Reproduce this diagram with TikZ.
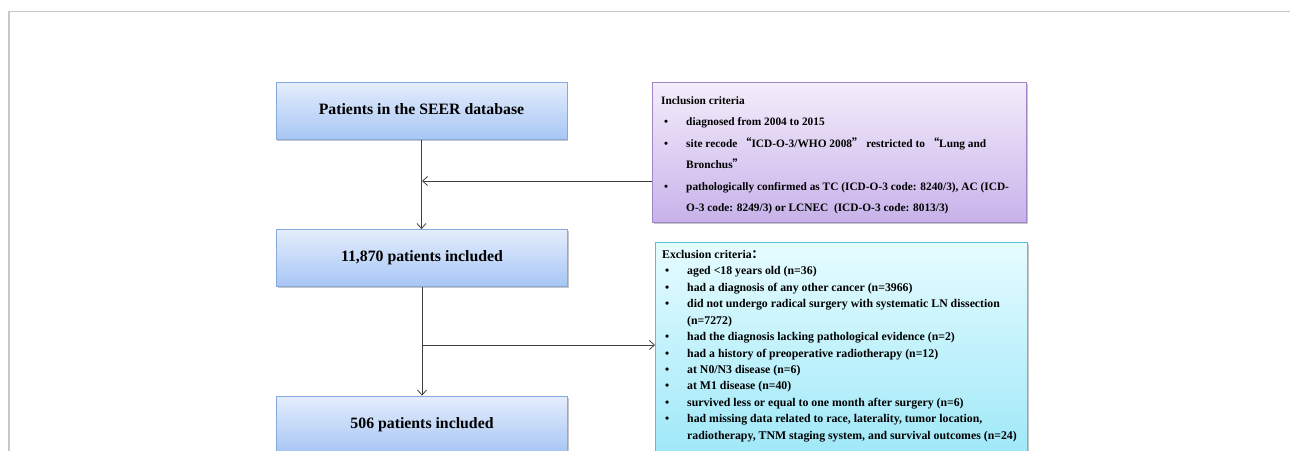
\documentclass[tikz,border=0pt]{standalone}
\usepackage{fontspec}
\setmainfont{Liberation Serif}
\newfontfamily\cjk{Noto Sans CJK SC}
\usetikzlibrary{arrows.meta,shadows}
\definecolor{maintop}{HTML}{E4EDFC}
\definecolor{mainbot}{HTML}{A7C6F5}
\definecolor{mainborder}{HTML}{86AADD}
\definecolor{inctop}{HTML}{F4EDFB}
\definecolor{incbot}{HTML}{C8B2EA}
\definecolor{incborder}{HTML}{A084C8}
\definecolor{exctop}{HTML}{E6FCFF}
\definecolor{excbot}{HTML}{9EE8F8}
\definecolor{excborder}{HTML}{52C2D8}
\definecolor{linec}{HTML}{404040}
\definecolor{framec}{HTML}{C8C8C8}
\newcommand{\bul}{\hspace*{3pt}\makebox[22pt][l]{\textbullet}}
\newcommand{\cont}{\hspace*{25pt}}
\begin{document}
\begin{tikzpicture}[x=1pt,y=-1pt,
  boxshadow/.style={drop shadow={shadow xshift=1.2pt, shadow yshift=-1.5pt, fill=black, opacity=0.22}},
  mainbox/.style={draw=mainborder, line width=0.8pt, top color=maintop, bottom color=mainbot,
    minimum width=291pt, minimum height=57pt, inner sep=0pt, boxshadow,
    text height=10.5pt, text depth=3pt,
    font=\fontsize{15.8}{18}\selectfont\bfseries},
  incbox/.style={draw=incborder, line width=0.8pt, top color=inctop, bottom color=incbot,
    minimum width=374pt, minimum height=140pt, inner sep=0pt, anchor=north west, boxshadow},
  excbox/.style={draw=excborder, line width=0.8pt, top color=exctop, bottom color=excbot,
    minimum width=372pt, minimum height=215pt, inner sep=0pt, anchor=north west, boxshadow},
  inctext/.style={anchor=north west, inner sep=0pt, align=left, font=\fontsize{11.35}{21.5}\selectfont\bfseries},
  exctext/.style={anchor=north west, inner sep=0pt, align=left, font=\fontsize{11.8}{16.45}\selectfont\bfseries},
  conn/.style={draw=linec, line width=0.9pt, -{Straight Barb[length=5pt,width=9pt,line width=0.8pt]}}
]
\useasboundingbox (0,0) rectangle (1290,450);
\clip (0,0) rectangle (1290,450);
\fill[white] (0,0) rectangle (1290,450);
% frame
\draw[framec, line width=1.3pt] (9,452) -- (9,11.5) -- (1292,11.5);

% main boxes
\node[mainbox] (b1) at (421.5,111) {Patients in the SEER database};
\node[mainbox] (b2) at (422,258) {11,870 patients included};
\node[mainbox] (b3) at (422,424.5) {506 patients included};

% criteria boxes
\node[incbox] (inc) at (652,82) {};
\node[excbox] (exc) at (655,242) {};

\node[inctext] (inct) at (661,96) {Inclusion criteria\\
\bul diagnosed from 2004 to 2015\\
\bul site recode {\cjk “}ICD-O-3/WHO 2008{\cjk ”} restricted to {\cjk “}Lung and\\
\cont Bronchus{\cjk ”}\\
\bul pathologically confirmed as TC (ICD-O-3 code: 8240/3), AC (ICD-\\
\cont O-3 code: 8249/3) or LCNEC\ \ (ICD-O-3 code: 8013/3)};

\node[exctext] (exct) at (662,250) {Exclusion criteria{\cjk ：}\\
\bul aged <18 years old (n=36)\\
\bul had a diagnosis of any other cancer (n=3966)\\
\bul did not undergo radical surgery with systematic LN dissection\\
\cont (n=7272)\\
\bul had the diagnosis lacking pathological evidence (n=2)\\
\bul had a history of preoperative radiotherapy (n=12)\\
\bul at N0/N3 disease (n=6)\\
\bul at M1 disease (n=40)\\
\bul survived less or equal to one month after surgery (n=6)\\
\bul had missing data related to race, laterality, tumor location,\\
\cont radiotherapy, TNM staging system, and survival outcomes (n=24)};

% connectors
\coordinate (j1) at (422,181);
\coordinate (j2) at (422,345);
\draw[conn] (b1.south) -- (b1.south |- b2.north);
\draw[conn] (b2.south) -- (b2.south |- b3.north);
\draw[conn] (inc.west |- j1) -- (j1);
\draw[conn] (j2) -- (exc.west |- j2);
\end{tikzpicture}
\end{document}
